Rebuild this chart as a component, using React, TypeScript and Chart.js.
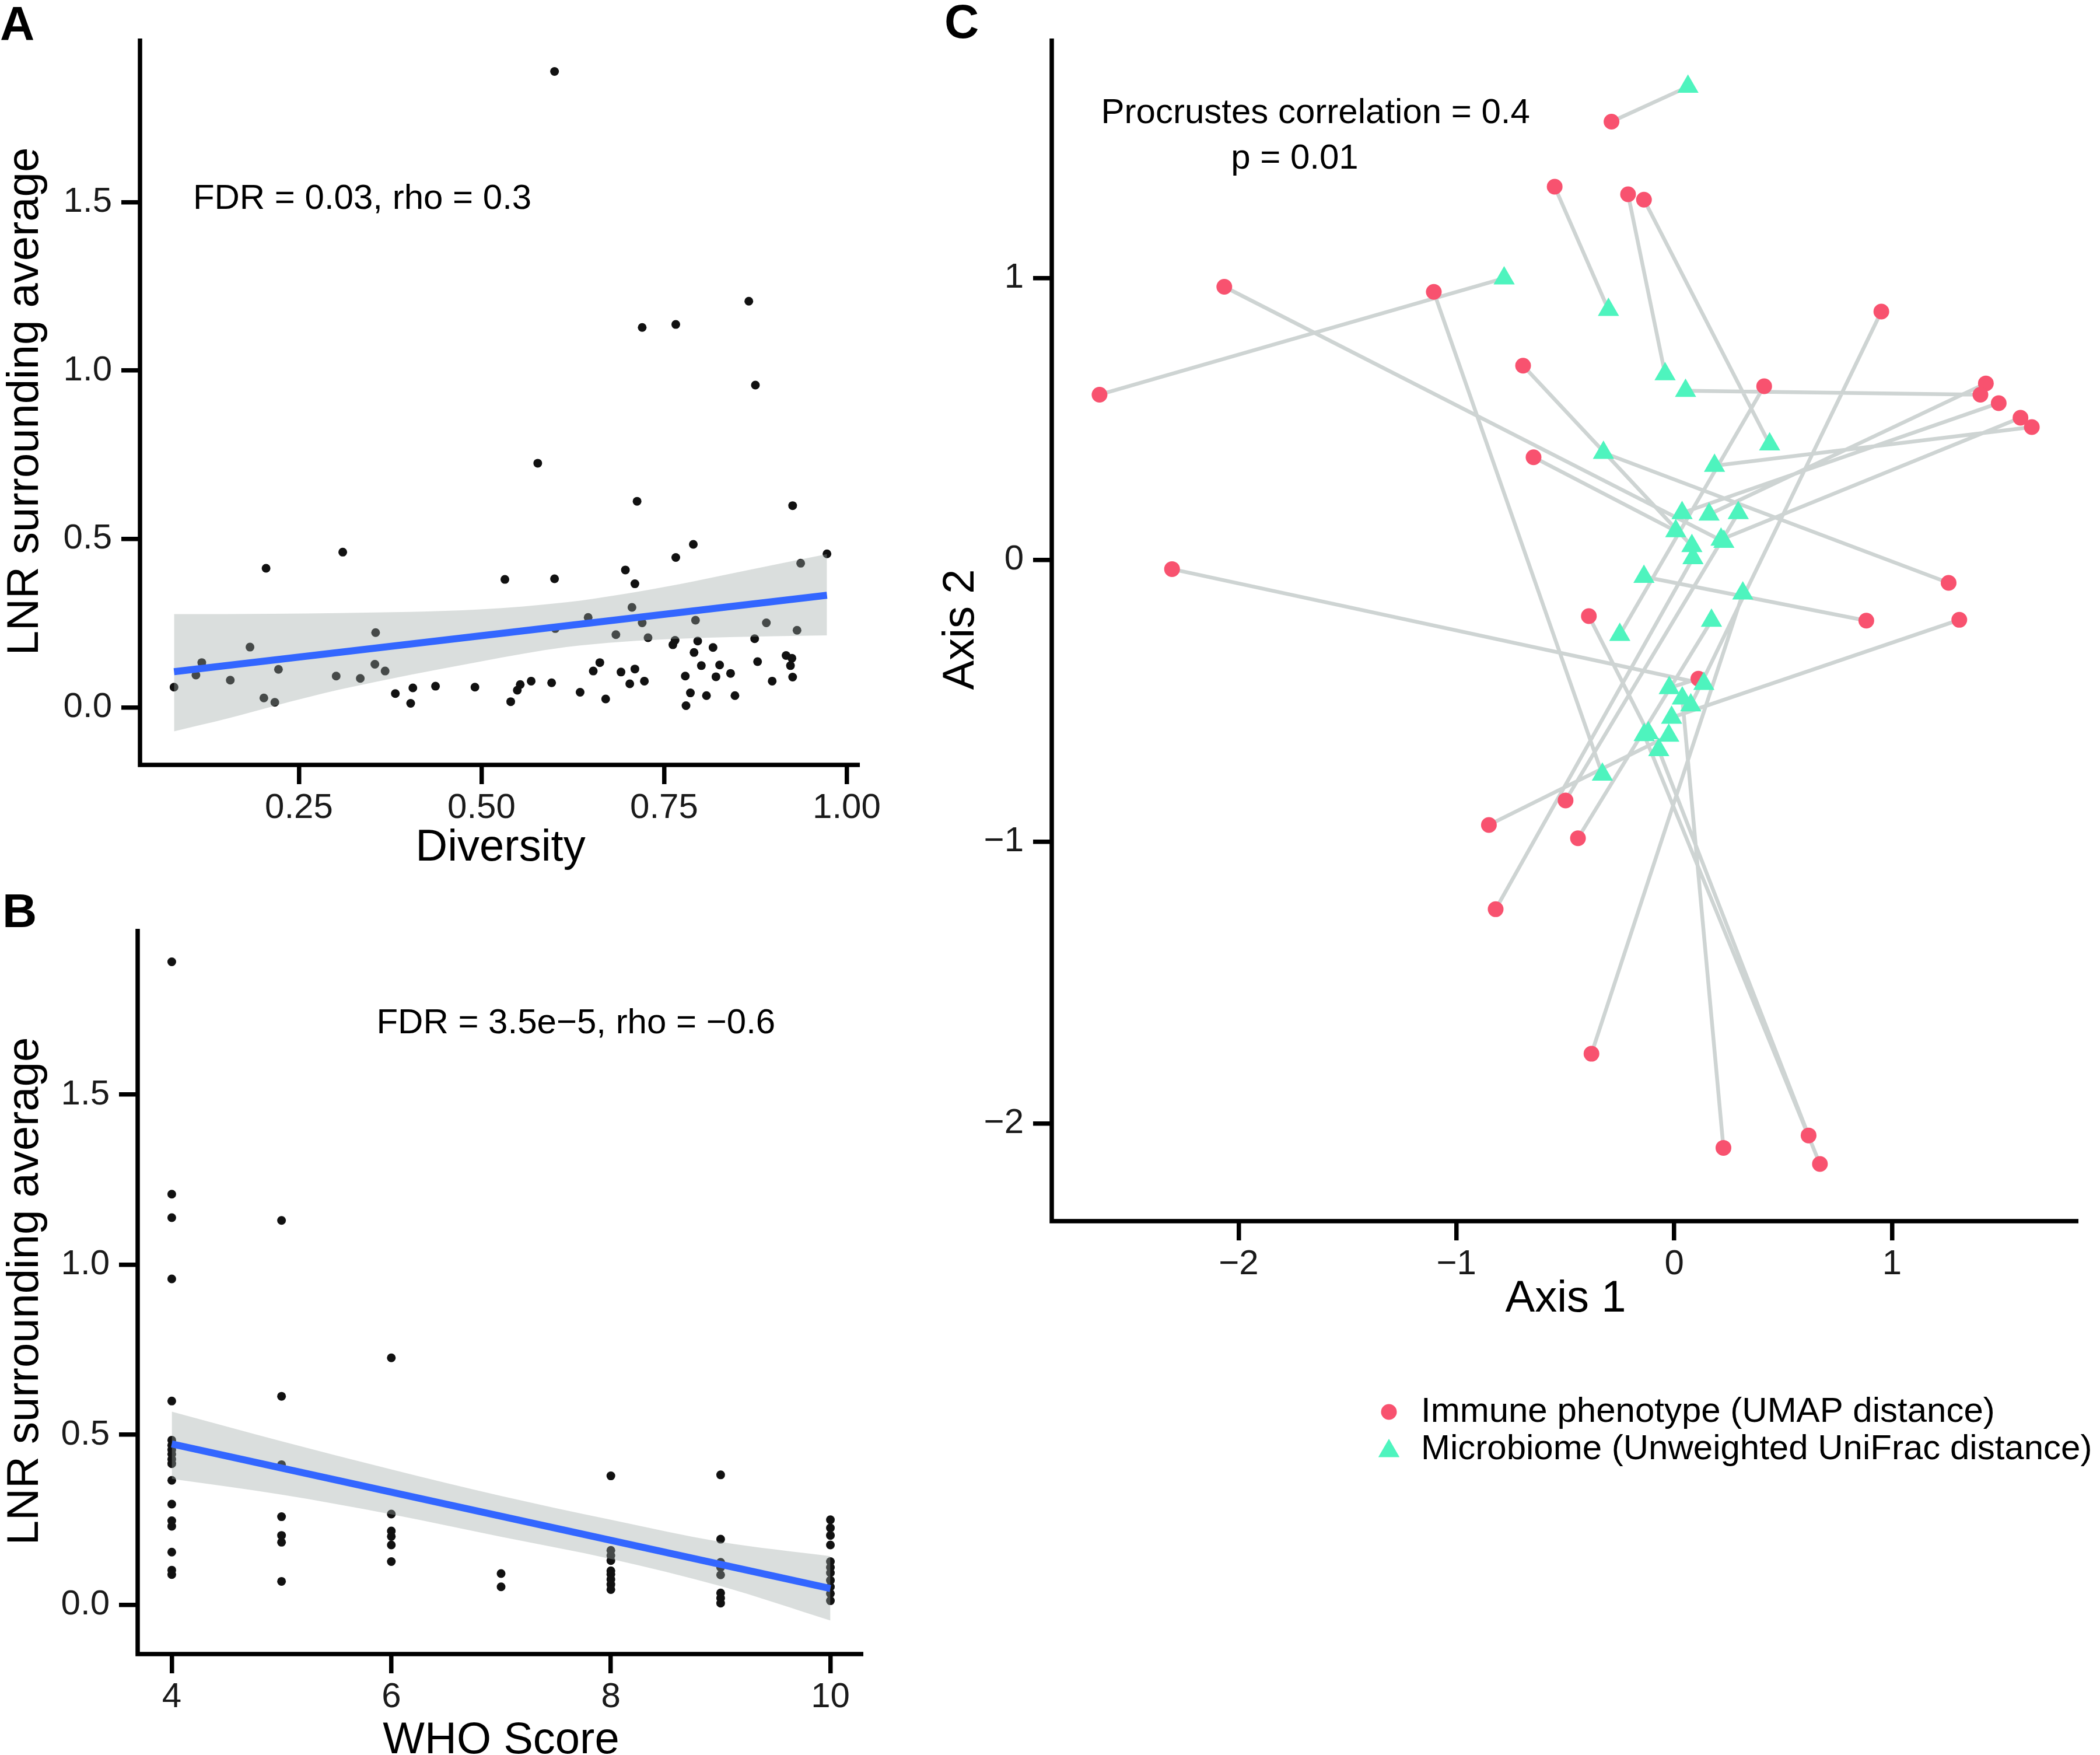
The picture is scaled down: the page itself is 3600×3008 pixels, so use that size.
import React, { useEffect, useRef } from "react";
import { Chart, registerables } from "chart.js";

Chart.register(...registerables);

const FONT = '"Liberation Sans", Arial, Helvetica, sans-serif';

// ---------- Panel A: Diversity vs LNR ----------
const diversity = [
  0.600, 0.866, 0.720, 0.766, 0.875, 0.577, 0.713, 0.926, 0.310, 0.205,
  0.790, 0.766, 0.973, 0.937, 0.532, 0.600, 0.697, 0.710, 0.706, 0.646,
  0.720, 0.793, 0.890, 0.932, 0.684, 0.728, 0.765, 0.762, 0.796, 0.874,
  0.601, 0.355, 0.183, 0.117, 0.109, 0.156, 0.222, 0.202, 0.217, 0.079,
  0.301, 0.334, 0.354, 0.368, 0.382, 0.403, 0.406, 0.437, 0.491, 0.540,
  0.549, 0.553, 0.568, 0.596, 0.635, 0.653, 0.662, 0.670, 0.691, 0.703,
  0.710, 0.723, 0.779, 0.780, 0.786, 0.791, 0.801, 0.817, 0.821, 0.826,
  0.808, 0.841, 0.847, 0.878, 0.898, 0.917, 0.925, 0.923, 0.926,
];
const lnrA = [
  1.888, 1.206, 1.128, 1.137, 0.957, 0.725, 0.612, 0.599, 0.461, 0.413,
  0.484, 0.445, 0.456, 0.428, 0.380, 0.382, 0.408, 0.367, 0.297, 0.267,
  0.251, 0.259, 0.251, 0.229, 0.216, 0.207, 0.199, 0.186, 0.197, 0.204,
  0.234, 0.222, 0.179, 0.133, 0.096, 0.081, 0.113, 0.028, 0.015, 0.060,
  0.093, 0.086, 0.128, 0.108, 0.041, 0.012, 0.058, 0.063, 0.060, 0.017,
  0.051, 0.068, 0.078, 0.073, 0.045, 0.108, 0.133, 0.025, 0.105, 0.070,
  0.114, 0.078, 0.093, 0.005, 0.043, 0.163, 0.124, 0.178, 0.091, 0.126,
  0.035, 0.101, 0.035, 0.136, 0.078, 0.154, 0.146, 0.124, 0.090,
];
const fitDiversity = [0.079, 0.973];
const fitLnrA = [0.106, 0.333];
const bandDiversity = [0.079, 0.152, 0.214, 0.306, 0.498, 0.616, 0.693, 0.771, 0.848, 0.973];
const bandUpperA = [0.277, 0.277, 0.278, 0.280, 0.291, 0.312, 0.336, 0.366, 0.400, 0.455];
const bandLowerA = [-0.071, -0.033, 0.003, 0.053, 0.136, 0.179, 0.195, 0.204, 0.209, 0.214];
const xTicksA = [0.25, 0.5, 0.75, 1.0];
const yTicksA = [0, 0.5, 1.0, 1.5];

// ---------- Panel B: WHO score vs LNR ----------
const whoScore = [
  4, 4, 4, 4, 4, 4, 4, 4, 4, 4, 4, 4, 4, 4, 4, 4, 4, 4,
  5, 5, 5, 5, 5, 5, 5,
  6, 6, 6, 6, 6, 6,
  7, 7,
  8, 8, 8, 8, 8, 8, 8, 8, 8,
  9, 9, 9, 9, 9, 9, 9, 9,
  10, 10, 10, 10, 10, 10, 10, 10, 10, 10, 10,
];
const lnrB = [
  1.890, 1.207, 1.138, 0.958, 0.599, 0.484, 0.469, 0.456, 0.443, 0.428, 0.415, 0.366, 0.296, 0.247, 0.231, 0.155, 0.102, 0.089,
  1.130, 0.613, 0.412, 0.259, 0.204, 0.184, 0.069,
  0.726, 0.267, 0.217, 0.201, 0.176, 0.127,
  0.092, 0.053,
  0.379, 0.160, 0.145, 0.130, 0.100, 0.090, 0.075, 0.060, 0.045,
  0.382, 0.193, 0.125, 0.110, 0.088, 0.035, 0.020, 0.005,
  0.250, 0.226, 0.204, 0.176, 0.127, 0.110, 0.094, 0.072, 0.053, 0.033, 0.012,
];
const fitWho = [4, 10];
const fitLnrB = [0.473, 0.048];
const bandWho = [4, 5, 6, 7, 8, 9, 10];
const bandUpperB = [0.568, 0.481, 0.398, 0.320, 0.250, 0.185, 0.143];
const bandLowerB = [0.370, 0.324, 0.266, 0.200, 0.135, 0.055, -0.046];
const xTicksB = [4, 6, 8, 10];
const yTicksB = [0, 0.5, 1.0, 1.5];

// ---------- Panel C: Procrustes ----------
const immuneX = [-0.288, -0.549, -0.212, -0.139, -2.066, -1.104, 0.951, -0.694, 0.413, -2.639, 1.431, 1.406, 1.490, 1.590, 1.642, -0.646, -2.306, 1.260, -0.392, 0.882, 1.309, 0.111, -0.499, -0.851, -0.442, -0.820, -0.380, 0.617, 0.226, 0.669];
const immuneY = [1.555, 1.324, 1.297, 1.278, 0.969, 0.951, 0.881, 0.689, 0.616, 0.586, 0.626, 0.586, 0.556, 0.504, 0.471, 0.364, -0.033, -0.082, -0.200, -0.216, -0.213, -0.422, -0.854, -0.941, -0.988, -1.240, -1.753, -2.043, -2.087, -2.144];
const microbeX = [0.063, -0.302, -0.042, 0.438, 0.228, -0.330, 0.076, 0.081, -0.250, -0.781, 0.160, 0.052, 0.036, 0.215, 0.185, 0.007, 0.136, -0.325, -0.119, -0.139, -0.012, -0.023, 0.294, -0.025, 0.171, 0.086, 0.315, -0.071, 0.037, -0.138];
const microbeY = [1.679, 0.887, 0.659, 0.410, 0.064, -0.762, -0.516, 0.049, -0.266, 0.999, 0.161, 0.600, 0.166, 0.072, 0.334, 0.102, -0.440, 0.380, -0.615, -0.060, -0.560, -0.455, 0.166, -0.624, -0.216, 0.006, -0.119, -0.675, -0.492, -0.622];
const xTicksC = [-2, -1, 0, 1];
const yTicksC = [-2, -1, 0, 1];
const legendLabels = ["Immune phenotype (UMAP distance)", "Microbiome (Unweighted UniFrac distance)"];

// ---------- styles ----------
const BAND = "rgba(158,168,166,0.38)";
const FIT = "#3366FF";
const DOT = "#111111";
const IMMUNE = "#F8526F";
const MICROBE = "#4EF4BE";
const SEGMENT = "rgb(206,212,211)";
const TICK_FONT = { family: FONT, size: 60 };

// L-shaped axis lines (drawn by hand so the corner joins cleanly)
const axisLinePlugin = {
  id: "axisLines",
  afterDraw: (chart: any) => {
    const { ctx, chartArea: a } = chart;
    ctx.save();
    ctx.strokeStyle = "#000";
    ctx.lineWidth = 7.5;
    ctx.lineJoin = "miter";
    ctx.lineCap = "butt";
    const x0 = a.left - 2;
    const y0 = a.bottom + 1;
    ctx.beginPath();
    ctx.moveTo(x0, a.top);
    ctx.lineTo(x0, y0);
    ctx.lineTo(a.right, y0);
    ctx.stroke();
    ctx.restore();
  },
};

function axisCommon(min: number, max: number, ticks: number[], fmt: (v: number) => string, pad: number) {
  return {
    type: "linear" as const,
    min,
    max,
    afterBuildTicks: (s: any) => {
      s.ticks = ticks.map((v) => ({ value: v }));
    },
    grid: { display: true, drawOnChartArea: false, drawTicks: true, tickLength: 34, color: "#000", lineWidth: 7.5 },
    border: { display: false },
    ticks: {
      font: TICK_FONT,
      color: "#1a1a1a",
      padding: pad,
      autoSkip: false,
      maxRotation: 0,
      minRotation: 0,
      callback: (v: any) => fmt(Number(v)),
    },
  };
}

const minus = (v: number) => (v < 0 ? "\u2212" + Math.abs(v) : String(v));

function pts(xs: number[], ys: number[]) {
  return xs.map((x, i) => ({ x, y: ys[i] }));
}

type RegP = {
  xs: number[]; ys: number[];
  fitX: number[]; fitY: number[];
  bandX: number[]; bandUp: number[]; bandLo: number[];
  xMin: number; xMax: number; yMin: number; yMax: number;
  xTicks: number[]; yTicks: number[]; xFmt: (v: number) => string;
  xTitle: string; yAxisWidth: number; xAxisHeight: number;
  padTop: number; padRight: number;
  xTitleLH: number; xTitlePadBottom: number;
  ann: { x: number; y: number; text: string };
  letter: { text: string; x: number; y: number };
};

function regressionConfig(p: RegP): any {
  const textPlugin = {
    id: "panelText",
    afterDraw: (chart: any) => {
      const ctx = chart.ctx;
      const sx = chart.scales.x;
      const sy = chart.scales.y;
      ctx.save();
      ctx.fillStyle = "#000";
      ctx.font = `60px ${FONT}`;
      ctx.textBaseline = "middle";
      ctx.textAlign = "left";
      ctx.fillText(p.ann.text, sx.getPixelForValue(p.ann.x), sy.getPixelForValue(p.ann.y));
      ctx.font = `bold 82px ${FONT}`;
      ctx.textBaseline = "alphabetic";
      ctx.fillText(p.letter.text, p.letter.x, p.letter.y);
      ctx.restore();
    },
  };
  const xAxis: any = axisCommon(p.xMin, p.xMax, p.xTicks, p.xFmt, 5);
  xAxis.afterFit = (s: any) => { s.height = p.xAxisHeight; };
  xAxis.title = {
    display: true, text: p.xTitle, color: "#000",
    font: { family: FONT, size: 76, lineHeight: p.xTitleLH },
    padding: { top: 0, bottom: p.xTitlePadBottom },
  };
  const yAxis: any = axisCommon(p.yMin, p.yMax, p.yTicks, (v) => v.toFixed(1), 16);
  yAxis.afterFit = (s: any) => { s.width = p.yAxisWidth; };
  yAxis.title = {
    display: true, text: "LNR surrounding average", color: "#000",
    font: { family: FONT, size: 76, lineHeight: 1.0 },
    padding: { top: 6, bottom: 0 },
  };
  return {
    type: "scatter",
    data: {
      datasets: [
        {
          type: "scatter", data: pts(p.xs, p.ys), pointRadius: 7.5, pointBackgroundColor: DOT,
          pointBorderWidth: 0, pointBorderColor: DOT, order: 3,
        },
        {
          type: "line", data: pts(p.bandX, p.bandLo), borderColor: "rgba(0,0,0,0)", borderWidth: 0,
          pointRadius: 0, fill: false, order: 2, cubicInterpolationMode: "monotone",
        },
        {
          type: "line", data: pts(p.bandX, p.bandUp), borderColor: "rgba(0,0,0,0)", borderWidth: 0,
          pointRadius: 0, fill: 1, backgroundColor: BAND, order: 2, cubicInterpolationMode: "monotone",
        },
        {
          type: "line", data: pts(p.fitX, p.fitY), borderColor: FIT, borderWidth: 12,
          pointRadius: 0, fill: false, order: 1, borderCapStyle: "butt",
        },
      ],
    },
    options: {
      responsive: false,
      animation: false,
      devicePixelRatio: 1,
      events: [],
      layout: { padding: { top: p.padTop, right: p.padRight, bottom: 0, left: 0 } },
      plugins: { legend: { display: false }, tooltip: { enabled: false } },
      scales: { x: xAxis, y: yAxis },
    },
    plugins: [axisLinePlugin, textPlugin],
  };
}

function configA() {
  return regressionConfig({
    xs: diversity, ys: lnrA, fitX: fitDiversity, fitY: fitLnrA,
    bandX: bandDiversity, bandUp: bandUpperA, bandLo: bandLowerA,
    xMin: 0.034, xMax: 1.018, yMin: -0.169, yMax: 1.986,
    xTicks: xTicksA, yTicks: yTicksA, xFmt: (v) => v.toFixed(2),
    xTitle: "Diversity", yAxisWidth: 242, xAxisHeight: 220,
    padTop: 66, padRight: 66, xTitleLH: 1.2, xTitlePadBottom: 30,
    ann: { x: 0.105, y: 1.508, text: "FDR = 0.03, rho = 0.3" },
    letter: { text: "A", x: 0, y: 68 },
  });
}

function configB() {
  return regressionConfig({
    xs: whoScore, ys: lnrB, fitX: fitWho, fitY: fitLnrB,
    bandX: bandWho, bandUp: bandUpperB, bandLo: bandLowerB,
    xMin: 3.7, xMax: 10.3, yMin: -0.143, yMax: 1.987,
    xTicks: xTicksB, yTicks: yTicksB, xFmt: (v) => String(v),
    xTitle: "WHO Score", yAxisWidth: 238, xAxisHeight: 174,
    padTop: 92, padRight: 60, xTitleLH: 0.63, xTitlePadBottom: 0,
    ann: { x: 5.865, y: 1.709, text: "FDR = 3.5e\u22125, rho = \u22120.6" },
    letter: { text: "B", x: 4, y: 89 },
  });
}

function configC(): any {
  const segments: any[] = [];
  immuneX.forEach((x, i) => {
    segments.push({ x, y: immuneY[i] });
    segments.push({ x: microbeX[i], y: microbeY[i] });
    segments.push({ x: null, y: null });
  });
  const textPlugin = {
    id: "panelTextC",
    afterDraw: (chart: any) => {
      const ctx = chart.ctx;
      const sx = chart.scales.x;
      const sy = chart.scales.y;
      ctx.save();
      ctx.fillStyle = "#000";
      ctx.font = `60px ${FONT}`;
      ctx.textBaseline = "middle";
      ctx.textAlign = "center";
      ctx.fillText("Procrustes correlation = 0.4", sx.getPixelForValue(-1.647), sy.getPixelForValue(1.584));
      ctx.fillText("p = 0.01", sx.getPixelForValue(-1.743), sy.getPixelForValue(1.422));
      // legend
      const kx = 821;
      ctx.fillStyle = IMMUNE;
      ctx.beginPath();
      ctx.arc(kx, 2420, 13.5, 0, Math.PI * 2);
      ctx.fill();
      ctx.fillStyle = MICROBE;
      const ty = 2487;
      ctx.beginPath();
      ctx.moveTo(kx, ty - 21);
      ctx.lineTo(kx + 18.2, ty + 10.5);
      ctx.lineTo(kx - 18.2, ty + 10.5);
      ctx.closePath();
      ctx.fill();
      ctx.fillStyle = "#000";
      ctx.textAlign = "left";
      ctx.fillText(legendLabels[0], 876, 2420);
      ctx.fillText(legendLabels[1], 876, 2484);
      ctx.font = `bold 82px ${FONT}`;
      ctx.textBaseline = "alphabetic";
      ctx.fillText("C", 59, 65);
      ctx.restore();
    },
  };
  const xAxis: any = axisCommon(-2.853, 1.856, xTicksC, minus, 5);
  xAxis.afterFit = (s: any) => { s.height = 178; };
  xAxis.title = {
    display: true, text: "Axis 1", color: "#000",
    font: { family: FONT, size: 76, lineHeight: 1.0 },
    padding: { top: 0, bottom: 5 },
  };
  const yAxis: any = axisCommon(-2.345, 1.85, yTicksC, minus, 16);
  yAxis.afterFit = (s: any) => { s.width = 245; };
  yAxis.title = {
    display: true, text: "Axis 2", color: "#000",
    font: { family: FONT, size: 76, lineHeight: 1.0 },
    padding: { top: 50, bottom: 0 },
  };
  return {
    type: "scatter",
    data: {
      datasets: [
        {
          type: "line", data: segments, borderColor: SEGMENT, borderWidth: 6.5, pointRadius: 0,
          fill: false, spanGaps: false, order: 3, borderCapStyle: "butt",
        },
        {
          type: "scatter", data: pts(immuneX, immuneY), pointStyle: "circle", pointRadius: 13.5,
          pointBackgroundColor: IMMUNE, pointBorderWidth: 0, pointBorderColor: IMMUNE, order: 2,
        },
        {
          type: "scatter", data: pts(microbeX, microbeY), pointStyle: "triangle", pointRadius: 21,
          pointBackgroundColor: MICROBE, pointBorderWidth: 0, pointBorderColor: MICROBE, order: 1,
        },
      ],
    },
    options: {
      responsive: false,
      animation: false,
      devicePixelRatio: 1,
      events: [],
      layout: { padding: { top: 66, right: 37, bottom: 330, left: 0 } },
      plugins: { legend: { display: false }, tooltip: { enabled: false } },
      scales: { x: xAxis, y: yAxis },
    },
    plugins: [axisLinePlugin, textPlugin],
  };
}

function ChartCanvas(props: { build: () => any; left: number; top: number; width: number; height: number }) {
  const ref = useRef<HTMLCanvasElement>(null);
  useEffect(() => {
    const chart = new Chart(ref.current as HTMLCanvasElement, props.build());
    return () => chart.destroy();
  }, []);
  return (
    <canvas
      ref={ref}
      width={props.width}
      height={props.height}
      style={{ position: "absolute", left: props.left, top: props.top, width: props.width, height: props.height }}
    />
  );
}

export default function App() {
  return (
    <div style={{ position: "absolute", left: 0, top: 0, width: 3600, height: 3008, background: "#fff", overflow: "hidden" }}>
      <ChartCanvas build={configA} left={0} top={0} width={1540} height={1530} />
      <ChartCanvas build={configB} left={0} top={1500} width={1540} height={1508} />
      <ChartCanvas build={configC} left={1560} top={0} width={2040} height={2600} />
    </div>
  );
}
